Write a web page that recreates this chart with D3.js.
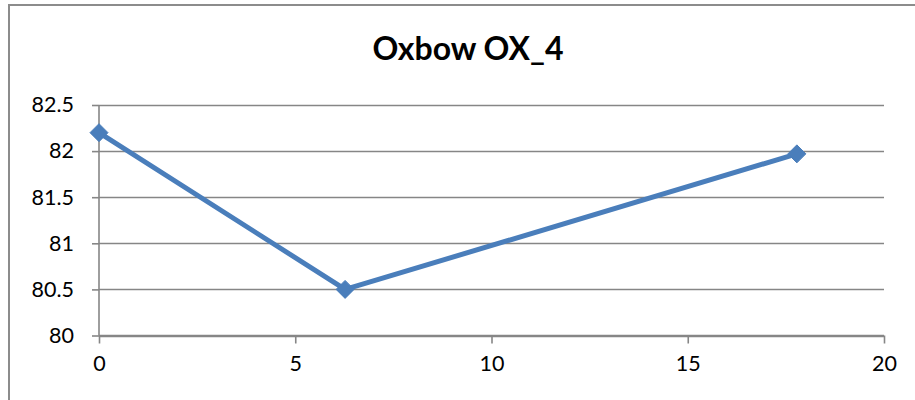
<!DOCTYPE html>
<html>
<head>
<meta charset="utf-8">
<script src="https://cdn.jsdelivr.net/npm/d3@7"></script>
<style>
	body { margin: 0; background: #fff; }
	svg text { font-family: Lato, "Open Sans", sans-serif; fill: #000; }
</style>
</head>
<body>
<svg id="chart" width="915" height="400"></svg>
<script>
// chart data
var title = "Oxbow OX_4";
var xValues = [0, 6.27, 17.78];
var yValues = [82.2, 80.5, 81.97];
var xTicks = [0, 5, 10, 15, 20];
var yTicks = [80, 80.5, 81, 81.5, 82, 82.5];

var margin = {top: 105, right: 31, bottom: 64.5, left: 99},
	width = 915 - margin.left - margin.right,
	height = 400 - margin.top - margin.bottom;

var svg = d3.select("#chart");

// outer chart border
svg.append("rect")
	.attr("x", 9)
	.attr("y", 5)
	.attr("width", 930)
	.attr("height", 420)
	.attr("fill", "none")
	.attr("stroke", "#8c8c8c")
	.attr("stroke-width", 2);

svg.append("text")
	.attr("x", 468)
	.attr("y", 60)
	.attr("text-anchor", "middle")
	.style("font-size", "32px")
	.style("font-weight", "bold")
	.text(title);

var g = svg.append("g")
	.attr("transform", "translate(" + margin.left + "," + margin.top + ")");

var x = d3.scaleLinear().domain([0, 20]).range([0, width]);
var y = d3.scaleLinear().domain([80, 82.5]).range([height, 0]);

// horizontal gridlines
g.selectAll(".grid")
	.data(yTicks)
	.enter().append("line")
	.attr("class", "grid")
	.attr("x1", 0)
	.attr("x2", width)
	.attr("y1", function(d) { return Math.round(y(d)) + 0.5; })
	.attr("y2", function(d) { return Math.round(y(d)) + 0.5; })
	.attr("stroke", "#868686")
	.attr("stroke-width", 1.6);

var yAxis = d3.axisLeft(y)
	.tickValues(yTicks)
	.tickSize(7)
	.tickPadding(18)
	.tickFormat(function(d) { return String(d); });

var xAxis = d3.axisBottom(x)
	.tickValues(xTicks)
	.tickSize(8)
	.tickPadding(12)
	.tickFormat(d3.format("d"));

var ya = g.append("g").call(yAxis);
var xa = g.append("g").attr("transform", "translate(0," + height + ")").call(xAxis);

[ya, xa].forEach(function(a) {
	a.select(".domain").attr("stroke", "#868686").attr("stroke-width", 1.6);
	a.selectAll(".tick line").attr("stroke", "#868686").attr("stroke-width", 1.6);
	a.selectAll("text").style("font-size", "21.5px").attr("fill", "#000");
});
ya.select(".domain").attr("d", "M0,0V" + height);
xa.select(".domain").attr("d", "M0,0H" + width);

var points = xValues.map(function(d, i) { return [d, yValues[i]]; });

var line = d3.line()
	.x(function(d) { return x(d[0]); })
	.y(function(d) { return y(d[1]); });

g.append("path")
	.datum(points)
	.attr("d", line)
	.attr("fill", "none")
	.attr("stroke", "#4a7ebb")
	.attr("stroke-width", 5)
	.attr("stroke-linejoin", "round");

g.selectAll(".marker")
	.data(points)
	.enter().append("path")
	.attr("class", "marker")
	.attr("d", "M0,-9L9,0L0,9L-9,0Z")
	.attr("transform", function(d) { return "translate(" + x(d[0]) + "," + y(d[1]) + ")"; })
	.attr("fill", "#4a7ebb")
	.attr("stroke", "#4a7ebb")
	.attr("stroke-width", 1);
</script>
</body>
</html>
